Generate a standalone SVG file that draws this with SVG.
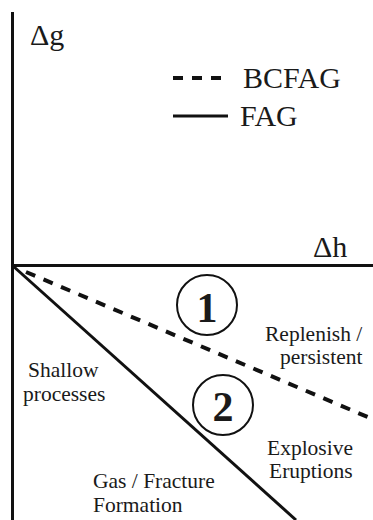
<svg xmlns="http://www.w3.org/2000/svg" width="373" height="520" viewBox="0 0 373 520">
<style>
text{font-family:'Liberation Serif','Times New Roman','DejaVu Serif',serif;fill:#1a1a1a}
.lbl{font-size:21.5px}
.ax{font-size:30px}
.leg{font-size:30px}
.num{font-size:42px;font-weight:bold;text-anchor:middle}
.solid{stroke:#111;stroke-width:3;fill:none}
.dash{stroke:#111;stroke-width:4;fill:none;stroke-dasharray:10 9}
.circ{stroke:#111;stroke-width:2;fill:none}
</style>
<rect width="373" height="520" fill="#fff"/>
<g id="axes">
<line class="solid" x1="12.5" y1="12" x2="12.5" y2="520"/>
<line class="solid" x1="11" y1="265.5" x2="373" y2="265.5"/>
<text class="ax" x="30" y="45">Δg</text>
<text class="ax" x="313" y="257">Δh</text>
</g>
<g id="legend">
<line class="dash" x1="173" y1="78" x2="224" y2="78"/>
<line class="solid" x1="173" y1="116" x2="228" y2="116"/>
<text class="leg" x="243" y="88">BCFAG</text>
<text class="leg" x="240" y="126">FAG</text>
</g>
<g id="connectors">
<line class="solid" x1="13" y1="266" x2="296" y2="520"/>
<line class="dash" x1="26" y1="272" x2="370" y2="418"/>
</g>
<g id="node1">
<circle class="circ" cx="207" cy="305" r="30"/>
<text class="num" x="207" y="322">1</text>
</g>
<g id="node2">
<circle class="circ" cx="223" cy="405" r="30"/>
<text class="num" x="223" y="421">2</text>
</g>
<g id="labels">
<text class="lbl" x="265" y="341">Replenish /</text>
<text class="lbl" x="280" y="364">persistent</text>
<text class="lbl" x="28" y="377">Shallow</text>
<text class="lbl" x="23" y="401">processes</text>
<text class="lbl" x="267" y="455">Explosive</text>
<text class="lbl" x="269" y="478">Eruptions</text>
<text class="lbl" x="93" y="488">Gas / Fracture</text>
<text class="lbl" x="93" y="512">Formation</text>
</g>
</svg>
